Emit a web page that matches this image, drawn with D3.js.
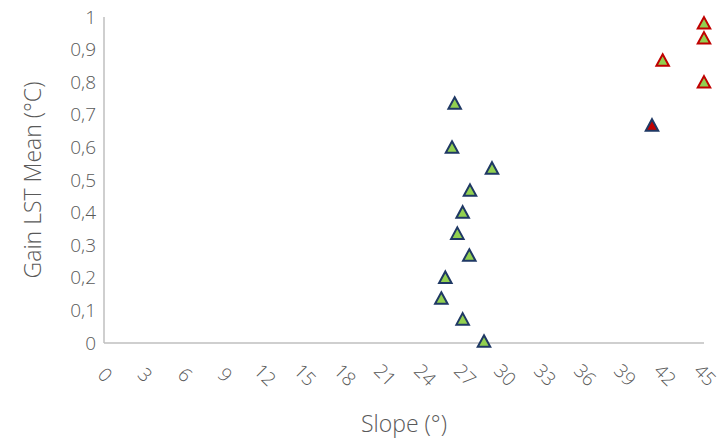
<!DOCTYPE html>
<html lang="en">
  <head>
    <meta charset="utf-8">
    <title>Gain LST Mean vs Slope</title>
    <style>
    body {margin: 0; background: #fff;}
    text {font-family: "Open Sans", "Noto Sans", sans-serif; font-weight: 300; fill: #595959;}
    </style>
  </head>
  <body>
    <div id="chart"></div>
    <script src="https://d3js.org/d3.v7.min.js"></script>
    <script>
      // data
      var slopeA = [26.3, 26.1, 29.1, 27.45, 26.9, 26.5, 27.4, 25.6, 25.3, 26.9, 28.5];
      var gainA  = [0.736, 0.601, 0.537, 0.469, 0.402, 0.337, 0.270, 0.202, 0.138, 0.074, 0.006];
      var slopeB = [45, 45, 41.9, 45];
      var gainB  = [0.982, 0.936, 0.868, 0.801];
      var slopeC = [41.1];
      var gainC  = [0.669];
      var xTicks = d3.range(0, 46, 3);
      var yTicks = d3.range(0, 11).map(function(i) { return i / 10; });

      var W = 720, H = 439;
      var margin = {top: 17, right: 16, bottom: 96, left: 104};
      var width = W - margin.left - margin.right,
          height = H - margin.top - margin.bottom;

      var svg = d3.select("#chart").append("svg")
          .attr("width", W).attr("height", H);
      var g = svg.append("g")
          .attr("transform", "translate(" + margin.left + "," + margin.top + ")");

      var x = d3.scaleLinear().domain([0, 45]).range([0, width]);
      var y = d3.scaleLinear().domain([0, 1]).range([height, 0]);

      // axis lines
      g.append("line").attr("x1", 0).attr("x2", 0).attr("y1", 0).attr("y2", height)
        .attr("stroke", "#bfbfbf").attr("stroke-width", 1.5);
      g.append("line").attr("x1", 0).attr("x2", width).attr("y1", height).attr("y2", height)
        .attr("stroke", "#bfbfbf").attr("stroke-width", 1.5);

      var fmt = function(d) { return d3.format(".1~f")(d).replace(".", ","); };

      g.selectAll(".ylab").data(yTicks).enter().append("text")
        .attr("x", -8).attr("y", function(d) { return y(d); })
        .attr("dy", "0.35em").attr("text-anchor", "end")
        .style("font-size", "19px")
        .text(fmt);

      g.selectAll(".xlab").data(xTicks).enter().append("text")
        .attr("text-anchor", "middle").attr("dy", "0.35em")
        .attr("transform", function(d) { return "translate(" + (x(d) + 1) + "," + (height + 32) + ") rotate(45)"; })
        .style("font-size", "19px")
        .text(function(d) { return d; });

      // axis titles
      svg.append("text")
        .attr("transform", "translate(41," + (margin.top + height / 2) + ") rotate(-90)")
        .attr("text-anchor", "middle")
        .style("font-size", "23px")
        .text("Gain LST Mean (°C)");
      svg.append("text")
        .attr("x", 404).attr("y", 432)
        .attr("text-anchor", "middle")
        .style("font-size", "23px")
        .text("Slope (°)");

      // triangle centred on its box
      function tri(cx, cy) {
        var w = 6.25, h = 5.75;
        return "M" + cx + "," + (cy - h) + "L" + (cx + w) + "," + (cy + h) + "L" + (cx - w) + "," + (cy + h) + "Z";
      }

      function drawSeries(xs, ys, fill, stroke) {
        g.selectAll(null).data(xs).enter().append("path")
          .attr("d", function(d, i) { return tri(x(d), y(ys[i])); })
          .attr("fill", fill).attr("stroke", stroke)
          .attr("stroke-width", 2).attr("stroke-linejoin", "miter");
      }

      drawSeries(slopeA, gainA, "#92d050", "#1f3864");
      drawSeries(slopeB, gainB, "#92d050", "#c00000");
      drawSeries(slopeC, gainC, "#c00000", "#1f3864");
    </script>
  </body>
</html>
